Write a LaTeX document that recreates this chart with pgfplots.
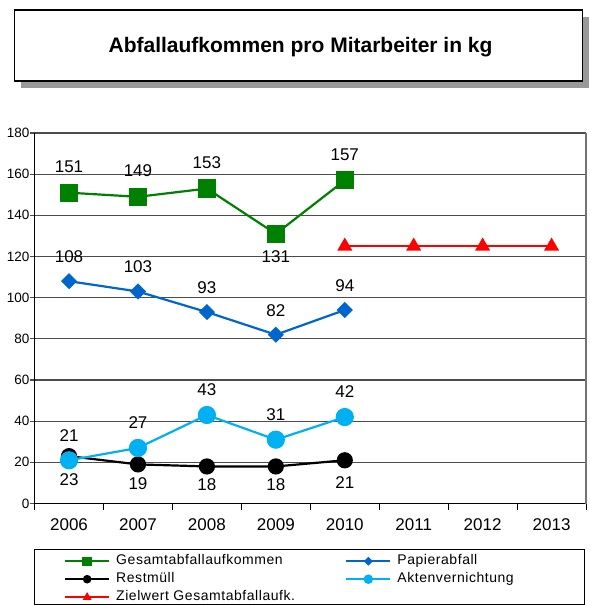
\documentclass[border=0pt]{standalone}
\usepackage{pgfplots}
\pgfplotsset{compat=1.18}
\usepackage{pgfplotstable}
\usepackage{fontspec}
\setmainfont{Liberation Sans}
\newfontfamily\legfont[LetterSpace=3.9]{Liberation Sans}
\definecolor{cGes}{HTML}{008000}
\definecolor{cPap}{HTML}{0066CC}
\definecolor{cRest}{HTML}{000000}
\definecolor{cAkt}{HTML}{00B0F0}
\definecolor{cZiel}{HTML}{FF0000}
\definecolor{cShadow}{HTML}{999999}

\pgfplotstableread{
x y dy
0 151 26
1 149 26
2 153 26
3 131 -23
4 157 26
}\gesamt
\pgfplotstableread{
x y dy
0 108 24.5
1 103 24.5
2 93 24.5
3 82 24.5
4 94 24.5
}\papier
\pgfplotstableread{
x y dy
0 23 -23
1 19 -19
2 18 -18
3 18 -18
4 21 -22
}\rest
\pgfplotstableread{
x y dy
0 21 25
1 27 25
2 43 25
3 31 25
4 42 25
}\akten
\pgfplotstableread{
x y
4 125
5 125
6 125
7 125
}\ziel

\newlength\legW
\newlength\legSep

\begin{document}
\settowidth{\legW}{\legfont\fontsize{14}{16}\selectfont Zielwert Gesamtabfallaufk.}
\setlength{\legSep}{\dimexpr 229pt-\legW\relax}
\begin{tikzpicture}
\useasboundingbox (-29pt,-101.5pt) rectangle (555pt,503.5pt);
\clip (-29pt,-101.5pt) rectangle (555pt,503.5pt);
% title box
\fill[cShadow] (-14pt,415.5pt) rectangle (554pt,486.5pt);
\draw[fill=white, line width=1.3pt] (-20pt,422.5pt) rectangle (548pt,493.5pt);
\node[font=\fontsize{21}{25}\selectfont\bfseries] at (266pt,456.5pt) {Abfallaufkommen pro Mitarbeiter in kg};
\begin{axis}[
  at={(0pt,0pt)}, anchor=south west, scale only axis,
  width=551.5pt, height=370.5pt,
  xmin=-0.5, xmax=7.5, ymin=0, ymax=180,
  clip=false,
  axis lines*=left,
  axis line style={black, line width=1.6pt},
  xtick={0,...,7}, xticklabels={2006,2007,2008,2009,2010,2011,2012,2013},
  minor xtick={-0.5,0.5,...,7.5},
  ytick={0,20,...,180},
  tick align=outside,
  major tick length=5pt, minor tick length=6pt,
  major x tick style={draw=none},
  minor x tick style={black, line width=1pt},
  major y tick style={black!70, line width=1.2pt},
  ymajorgrids, major grid style={black!70, line width=1.2pt},
  /pgf/number format/assume math mode=true,
  xticklabel style={font=\fontsize{17}{20}\selectfont, inner sep=0pt, yshift=-10pt},
  yticklabel style={font=\fontsize{13.5}{16}\selectfont, inner sep=0pt, xshift=0pt},
  every node near coord/.append style={font=\fontsize{17}{20}\selectfont, anchor=center, inner sep=0pt, yshift=\dy pt, text=black},
  legend columns=2,
  legend cell align=left,
  legend style={draw=none, fill=none, inner sep=0pt,
    at={(axis description cs:0.0531,-0.1363)}, anchor=north west,
    font=\legfont\fontsize{14}{16}\selectfont,
    nodes={inner sep=0pt, text height=10pt, text depth=4pt},
    row sep=4pt,
    /tikz/every odd column/.append style={column sep=6pt},
    /tikz/every even column/.append style={column sep=\legSep}},
  legend image code/.code={\draw[mark repeat=2, mark phase=2, #1, /tikz/every mark/.append style={scale=0.45}] plot coordinates {(0pt,0pt) (22pt,0pt) (44pt,0pt)};},
]
\addplot[cGes, line width=2.2pt, mark=square*, mark size=8pt, mark options={fill=cGes, draw=cGes},
  nodes near coords, visualization depends on={\thisrow{dy} \as \dy}] table[x=x, y=y] {\gesamt};
\addlegendentry{Gesamtabfallaufkommen}
\addplot[cPap, line width=2.2pt, mark=square*, mark size=4.6pt, mark options={fill=cPap, draw=cPap, rotate=45},
  nodes near coords, visualization depends on={\thisrow{dy} \as \dy}] table[x=x, y=y] {\papier};
\addlegendentry{Papierabfall}
\addplot[cRest, line width=2.2pt, mark=*, mark size=7pt, mark options={fill=cRest, draw=cRest},
  nodes near coords, visualization depends on={\thisrow{dy} \as \dy}] table[x=x, y=y] {\rest};
\addlegendentry{Restmüll}
\addplot[cAkt, line width=2.2pt, mark=*, mark size=8pt, mark options={fill=cAkt, draw=cAkt},
  nodes near coords, visualization depends on={\thisrow{dy} \as \dy}] table[x=x, y=y] {\akten};
\addlegendentry{Aktenvernichtung}
\addplot[cZiel, line width=2.2pt, mark=triangle*, mark size=6.5pt, mark options={fill=cZiel, draw=cZiel}] table[x=x, y=y] {\ziel};
\addlegendentry{Zielwert Gesamtabfallaufk.}
\draw[black!55, line width=1.4pt] (rel axis cs:1,0) -- (rel axis cs:1,1);
\end{axis}
\draw[line width=0.9pt] (0pt,-45.5pt) rectangle (550pt,-100.5pt);
\end{tikzpicture}
\end{document}
